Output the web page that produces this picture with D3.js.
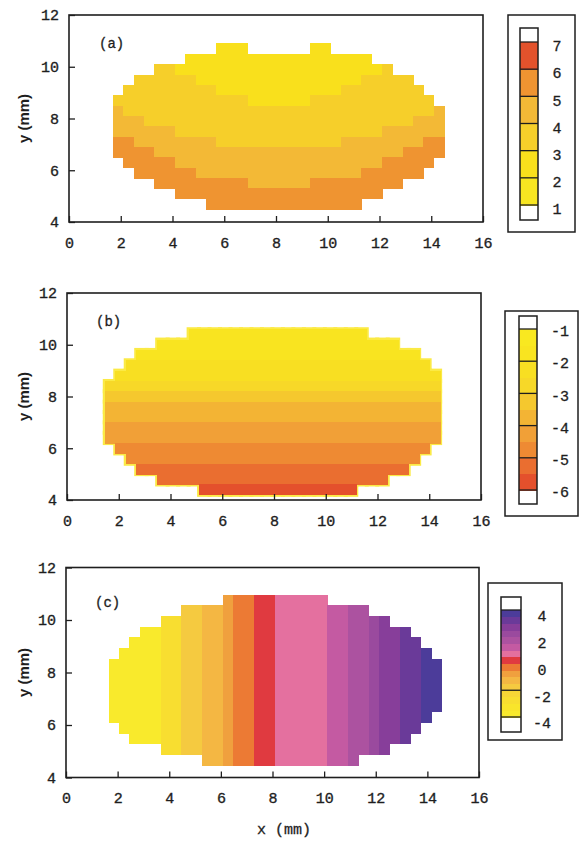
<!DOCTYPE html>
<html><head><meta charset="utf-8">
<script src="https://cdn.jsdelivr.net/npm/d3@7"></script>
<style>body{margin:0;background:#fff}svg{display:block}</style>
</head><body>
<svg id="chart" width="582" height="844"></svg>
<script>
// ---------------- DATA ----------------
const xTickValues = [0, 2, 4, 6, 8, 10, 12, 14, 16];
const yTickValues = [4, 6, 8, 10, 12];
const panelLabels = ["(a)", "(b)", "(c)"];

// Panel (a): contour level of each 0.4 mm cell (rows top -> bottom), '.' = no sample
const aGrid = [
  ".........." + "222" + "......" + "22" + "...........",
  "......." + "222222222" + "222222222" + ".......",
  "...." + "33" + "22222222222222222222" + "3" + ".....",
  ".." + "333333" + "2222222222222222" + "33333" + "...",
  "." + "333333333" + "222222222222" + "33333333" + "..",
  "3333333333333" + "222222" + "333333333333" + ".",
  "4" + "333333333333333" + "333333333333333" + "4",
  "444" + "3333333333333" + "3333333333333" + "444",
  "444444" + "33333333333333333333" + "444444",
  "55" + "44444444" + "333333333333" + "44444444" + "55",
  "5555" + "444444444444" + "444444444444" + "5555",
  "." + "55555" + "44444444444444444444" + "55555" + ".",
  ".." + "555555" + "4444444444444444" + "555555" + "..",
  "...." + "555555555" + "444444" + "555555555" + "....",
  "......" + "55555555555555555555" + "......",
  "........." + "555555555555555" + "........"
];
const aLegendBreaks = [1, 2, 3, 4, 5, 6, 7];
const aLegendTicks = [7, 6, 5, 4, 3, 2, 1];

// Panel (b): values by row (top -> bottom), first/last filled column of each row
const bRowStart = [8, 5, 3, 2, 1, 0, 0, 0, 0, 0, 0, 1, 2, 3, 5, 9];
const bRowEnd   = [24, 27, 29, 30, 31, 31, 31, 31, 31, 31, 31, 30, 29, 28, 26, 23];
const bRowValue = [-1.8, -1.8, -1.8, -2.2, -2.4, -2.8, -3.3, -3.7, -3.9, -4.2, -4.4, -4.7, -4.9, -5.2, -5.4, -5.8];
const bLegendBreaks = [-6, -5.5, -5, -4.5, -4, -3.5, -3, -2.5, -2, -1.5, -1];
const bLegendTicks = [-1, -2, -3, -4, -5, -6];

// Panel (c): values by column (left -> right), first/last filled column of each row
const cRowStart = [11, 7, 5, 3, 2, 1, 0, 0, 0, 0, 0, 0, 1, 2, 5, 9];
const cRowEnd   = [20, 24, 26, 28, 29, 30, 31, 31, 31, 31, 31, 30, 29, 28, 26, 23];
const cColValue = [-3.7, -3.7, -3.7, -3.7, -3.7, -2.7, -2.7, -1.7, -1.7, -1.2, -1.2, -0.7, -0.2, -0.2, 0.2, 0.2,
                   0.8, 0.8, 0.8, 0.8, 0.8, 1.2, 1.2, 1.7, 1.7, 2.2, 2.7, 2.7, 3.2, 3.2, 3.7, 3.7];
const cLegendBreaks = [-4, -3.5, -3, -2.5, -2, -1.5, -1, -0.5, 0, 0.5, 1, 1.5, 2, 2.5, 3, 3.5, 4];
const cLegendTicks = [4, 2, 0, -2, -4];

// ---------------- STYLE ----------------
const aColors = ["#f8e621", "#f9e01c", "#f6cf2a", "#f3b936", "#ef9431", "#e3522c"];
const bColors = ["#e4502c", "#ea6e30", "#ee8a33", "#f1a037", "#f3b434", "#f5c82e", "#f7d828", "#f8df22", "#f9e420", "#f9e820"];
const cColors = ["#f9ea2c", "#f9e52b", "#f8de30", "#f7d636", "#f5ca40", "#f4b743", "#f0a03e", "#ec7a34",
                 "#e03a40", "#e4709f", "#c45aa2", "#ac52a0", "#9a4a9e", "#873e9a", "#6a3a99", "#4c3c9a"];
const ink = "#1e1e1e";
const monoFont = "'Liberation Mono', 'DejaVu Sans Mono', monospace";

const panels = [
  {frame: {l: 69, r: 483, t: 15, b: 222}, label: {x: 99, y: 43},
   grid: {x0: 1.7, cw: 0.4, yTop: 10.9, ch: 0.4},
   legend: {box: {l: 508, r: 575, t: 15, b: 232}, bar: {l: 520, r: 538, t: 28, b: 220},
            vTop: 7, vBot: 1, pyTop: 42, pyBot: 205, breaks: aLegendBreaks, colors: aColors,
            lines: aLegendBreaks, ticks: aLegendTicks, labelX: 557, labelDy: 4}},
  {frame: {l: 67, r: 481, t: 293, b: 500}, label: {x: 96, y: 321},
   grid: {x0: 1.46, cw: 0.405, yTop: 10.6, ch: 0.4},
   legend: {box: {l: 505, r: 578, t: 311, b: 516}, bar: {l: 519, r: 537, t: 316, b: 504},
            vTop: -1, vBot: -6, pyTop: 329, pyBot: 490, breaks: bLegendBreaks, colors: bColors,
            lines: [-1, -2, -3, -4, -5, -6], ticks: bLegendTicks, labelX: 560, labelDy: 2}},
  {frame: {l: 66, r: 479, t: 567.5, b: 777.5}, label: {x: 95, y: 602},
   grid: {x0: 1.65, cw: 0.403, yTop: 10.96, ch: 0.405},
   legend: {box: {l: 488, r: 562, t: 583, b: 740}, bar: {l: 501, r: 521, t: 597, b: 732},
            vTop: 4, vBot: -4, pyTop: 610, pyBot: 717, breaks: cLegendBreaks, colors: cColors,
            lines: [4, -2, -4], ticks: cLegendTicks, labelX: 542, labelDy: 6}}
];

const svg = d3.select("#chart");

function cellRect(x, y, g, c, r) {
  const x0 = x(g.x0 + c * g.cw), x1 = x(g.x0 + (c + 1) * g.cw);
  const y0 = y(g.yTop - r * g.ch), y1 = y(g.yTop - (r + 1) * g.ch);
  return {x: x0, y: y0, w: x1 - x0, h: y1 - y0};
}

panels.forEach((p, i) => {
  const f = p.frame;
  const x = d3.scaleLinear().domain([0, 16]).range([f.l, f.r]);
  const y = d3.scaleLinear().domain([4, 12]).range([f.b, f.t]);
  const g = svg.append("g");
  const cells = [];
  if (i === 0) {
    const col = d3.scaleThreshold().domain(aLegendBreaks.slice(1, -1)).range(aColors);
    aGrid.forEach((row, r) => {
      for (let c = 0; c < row.length; c++) {
        if (row[c] === ".") continue;
        cells.push({...cellRect(x, y, p.grid, c, r), fill: col(+row[c] + 0.5)});
      }
    });
  } else if (i === 1) {
    const col = d3.scaleThreshold().domain(bLegendBreaks.slice(1, -1)).range(bColors);
    bRowValue.forEach((v, r) => {
      for (let c = bRowStart[r]; c <= bRowEnd[r]; c++) cells.push({...cellRect(x, y, p.grid, c, r), fill: col(v)});
    });
  } else {
    const col = d3.scaleThreshold().domain(cLegendBreaks.slice(1, -1)).range(cColors);
    cRowStart.forEach((s, r) => {
      for (let c = s; c <= cRowEnd[r]; c++) cells.push({...cellRect(x, y, p.grid, c, r), fill: col(cColValue[c])});
    });
  }
  if (i === 1) {
    g.append("g").selectAll("rect").data(cells).join("rect")
      .attr("x", d => d.x - 2).attr("y", d => d.y - 2)
      .attr("width", d => d.w + 4).attr("height", d => d.h + 4).attr("fill", "#fbea45");
  }
  g.append("g").attr("shape-rendering", "crispEdges").selectAll("rect").data(cells).join("rect")
    .attr("x", d => d.x).attr("y", d => d.y)
    .attr("width", d => d.w + 0.6).attr("height", d => d.h + 0.6).attr("fill", d => d.fill);

  // axes
  const xa = g.append("g").attr("transform", `translate(0,${f.b})`)
    .call(d3.axisBottom(x).tickValues(xTickValues).tickSizeInner(-6).tickSizeOuter(0).tickPadding(15));
  const ya = g.append("g").attr("transform", `translate(${f.l},0)`)
    .call(d3.axisLeft(y).tickValues(yTickValues).tickSizeInner(-6).tickSizeOuter(0).tickPadding(10));
  [xa, ya].forEach(a => {
    a.select(".domain").remove();
    a.selectAll("line").attr("stroke", ink).attr("stroke-width", 1.3);
    a.selectAll("text").attr("font-family", monoFont).attr("font-size", 15).attr("fill", ink)
      .attr("stroke", ink).attr("stroke-width", 0.35);
  });
  g.append("rect").attr("x", f.l).attr("y", f.t).attr("width", f.r - f.l).attr("height", f.b - f.t)
    .attr("fill", "none").attr("stroke", ink).attr("stroke-width", 1.6);

  g.append("text").attr("x", p.label.x).attr("y", p.label.y).attr("dy", "0.35em")
    .attr("font-family", monoFont).attr("font-size", 14).attr("fill", ink)
    .attr("stroke", ink).attr("stroke-width", 0.3).text(panelLabels[i]);

  g.append("text").attr("transform", `translate(24,${(f.t + f.b) / 2}) rotate(-90)`)
    .attr("text-anchor", "middle").attr("dy", "0.35em")
    .attr("font-family", "'Liberation Sans', Arial, sans-serif").attr("font-weight", "bold")
    .attr("font-size", 15).attr("fill", ink).text("y (mm)");

  // colour legend
  const L = p.legend;
  const lg = svg.append("g");
  lg.append("rect").attr("x", L.box.l).attr("y", L.box.t).attr("width", L.box.r - L.box.l)
    .attr("height", L.box.b - L.box.t).attr("fill", "#fff").attr("stroke", ink).attr("stroke-width", 1.5);
  const ly = d3.scaleLinear().domain([L.vTop, L.vBot]).range([L.pyTop, L.pyBot]);
  const bins = L.breaks.slice(0, -1).map((lo, k) => ({lo, hi: L.breaks[k + 1], color: L.colors[k]}));
  lg.append("g").attr("shape-rendering", "crispEdges").selectAll("rect").data(bins).join("rect")
    .attr("x", L.bar.l).attr("width", L.bar.r - L.bar.l)
    .attr("y", d => ly(d.hi)).attr("height", d => ly(d.lo) - ly(d.hi) + 0.5).attr("fill", d => d.color);
  lg.selectAll("line.sep").data(L.lines).join("line").attr("class", "sep")
    .attr("x1", L.bar.l).attr("x2", L.bar.r).attr("y1", d => ly(d)).attr("y2", d => ly(d))
    .attr("stroke", ink).attr("stroke-width", 1.3);
  lg.append("rect").attr("x", L.bar.l).attr("y", L.bar.t).attr("width", L.bar.r - L.bar.l)
    .attr("height", L.bar.b - L.bar.t).attr("fill", "none").attr("stroke", ink).attr("stroke-width", 1.5);
  lg.selectAll("text").data(L.ticks).join("text")
    .attr("x", L.labelX).attr("y", d => ly(d) + L.labelDy).attr("dy", "0.35em").attr("text-anchor", "middle")
    .attr("font-family", monoFont).attr("font-size", 15).attr("fill", ink)
    .attr("stroke", ink).attr("stroke-width", 0.3).text(d => d);
});

svg.append("text").attr("x", 284).attr("y", 829).attr("dy", "0.35em").attr("text-anchor", "middle")
  .attr("font-family", monoFont).attr("font-size", 15).attr("fill", ink)
  .attr("stroke", ink).attr("stroke-width", 0.3).text("x (mm)");
</script>
</body></html>
